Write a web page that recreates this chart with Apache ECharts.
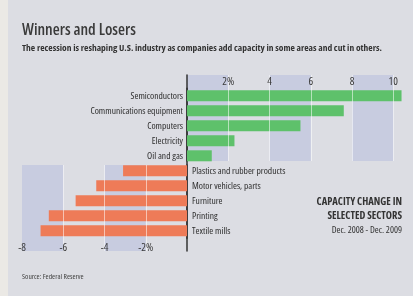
<!DOCTYPE html>
<html>
<head>
<meta charset="utf-8">
<script src="https://cdn.jsdelivr.net/npm/echarts@6/dist/echarts.min.js"></script>
<style>
  html, body { margin: 0; padding: 0; background: #dcdde3; }
  #chart { width: 413px; height: 296px; }
</style>
</head>
<body>
<div id="chart"></div>
<script>
// sectors that added capacity (top) and those that cut it (bottom)
var winners = ['Semiconductors', 'Communications equipment', 'Computers', 'Electricity', 'Oil and gas'];
var winnerValues = [10.4, 7.6, 5.5, 2.3, 1.2];
var losers = ['Plastics and rubber products', 'Motor vehicles, parts', 'Furniture', 'Printing', 'Textile mills'];
var loserValues = [-3.1, -4.4, -5.4, -6.7, -7.1];

// tick labels
var topTickValues = [2, 4, 6, 8, 10];
var topTickLabels = ['2%', '4', '6', '8', '10'];
var bottomTickValues = [-8, -6, -4, -2];
var bottomTickLabels = ['-8', '-6', '-4', '-2%'];

// condensed Open Sans (font-stretch goes in through the weight slot of the font string)
var FONT = '"Open Sans", sans-serif';
var COND = 'condensed';
var COND_BOLD = 'bold condensed';
var shade = '#c8cce0';
var axisColor = '#333333';

var chart = echarts.init(document.getElementById('chart'));

var categories = winners.concat(losers);
var gainData = winnerValues.concat(losers.map(function () { return '-'; }));
var lossData = winners.map(function () { return '-'; }).concat(loserValues);

function tickFormatter(values, labels) {
  return function (v) {
    var i = values.indexOf(Math.round(v * 100) / 100);
    return i < 0 ? '' : labels[i];
  };
}

// one line of text, placed with the title component
function note(text, pos, size, weight, color) {
  var t = { text: text, padding: 0, textStyle: { fontFamily: FONT, fontSize: size, fontWeight: weight, color: color, lineHeight: size + 2 } };
  for (var k in pos) t[k] = pos[k];
  return t;
}

var option = {
  backgroundColor: '#dcdde3',
  animation: false,
  graphic: [
    // whiter paper edge on the left
    { type: 'rect', left: 0, top: 0, shape: { width: 8, height: 296 }, style: { fill: '#ebe9e5' }, silent: true }
  ],
  title: [
    note('Winners and Losers', { left: 22, top: 21 }, 16, '600 condensed', '#3a3a3a'),
    note('The recession is reshaping U.S. industry as companies add capacity in some areas and cut in others.', { left: 22, top: 42.5 }, 9.5, COND_BOLD, '#333'),
    note('CAPACITY CHANGE IN', { right: 11, top: 195.5 }, 10.5, COND_BOLD, '#333'),
    note('SELECTED SECTORS', { right: 11, top: 210 }, 10.5, COND_BOLD, '#333'),
    note('Dec. 2008 - Dec. 2009', { right: 11, top: 225 }, 9.5, COND, '#333'),
    note('Source: Federal Reserve', { left: 22, top: 272 }, 7.5, COND, '#444')
  ],
  grid: [
    // bars
    { left: 22, right: 9.4, top: 88.3, height: 150 },
    // upper shaded panel (positive side)
    { left: 187, right: 9.4, top: 75, height: 86 },
    // lower shaded panel (negative side)
    { left: 22, right: 226, top: 165, height: 86 }
  ],
  xAxis: [
    { gridIndex: 0, type: 'value', min: -8, max: 10.5, show: false },
    {
      gridIndex: 1, type: 'value', min: 0, max: 10.5, interval: 2, position: 'top', z: 0,
      axisLine: { show: false }, axisTick: { show: false }, axisLabel: { show: false },
      splitLine: { show: false },
      splitArea: { show: true, areaStyle: { color: [shade, 'rgba(0,0,0,0)'] } }
    },
    {
      gridIndex: 1, type: 'value', min: 0, max: 10.5, interval: 2, position: 'top', z: 5,
      axisLine: { show: false }, axisTick: { show: false },
      axisLabel: {
        inside: true, margin: 1, fontFamily: FONT, fontSize: 11, fontWeight: COND, color: '#3a3a3a',
        formatter: tickFormatter(topTickValues, topTickLabels)
      },
      splitLine: { show: true, showMinLine: false, showMaxLine: false, lineStyle: { color: 'rgba(255,255,255,0.55)', width: 1 } },
      splitArea: { show: false }
    },
    {
      gridIndex: 2, type: 'value', min: -8, max: 0, interval: 2, position: 'bottom', z: 0,
      axisLine: { show: false }, axisTick: { show: false }, axisLabel: { show: false },
      splitLine: { show: false },
      splitArea: { show: true, areaStyle: { color: [shade, 'rgba(0,0,0,0)'] } }
    },
    {
      gridIndex: 2, type: 'value', min: -8, max: 0, interval: 2, position: 'bottom', z: 5,
      axisLine: { show: false }, axisTick: { show: false },
      axisLabel: {
        inside: true, margin: -2, fontFamily: FONT, fontSize: 11, fontWeight: COND, color: '#3a3a3a',
        formatter: tickFormatter(bottomTickValues, bottomTickLabels)
      },
      splitLine: { show: true, showMinLine: false, showMaxLine: false, lineStyle: { color: 'rgba(255,255,255,0.55)', width: 1 } },
      splitArea: { show: false }
    }
  ],
  yAxis: [
    {
      gridIndex: 0, type: 'category', data: categories, inverse: true,
      axisLine: { show: true, onZero: true, lineStyle: { color: axisColor, width: 1.5 } },
      axisTick: { show: false }, axisLabel: { show: false }, splitLine: { show: false }
    },
    {
      gridIndex: 1, type: 'value', min: 0, max: 1, position: 'left',
      axisLine: { show: true, onZero: false, lineStyle: { color: axisColor, width: 1.5 } },
      axisTick: { show: false }, axisLabel: { show: false }, splitLine: { show: false }
    },
    {
      gridIndex: 2, type: 'value', min: 0, max: 1, position: 'right',
      axisLine: { show: true, onZero: false, lineStyle: { color: axisColor, width: 1.5 } },
      axisTick: { show: false }, axisLabel: { show: false }, splitLine: { show: false }
    }
  ],
  series: [
    {
      name: 'Added capacity', type: 'bar', xAxisIndex: 0, yAxisIndex: 0,
      data: gainData, barWidth: 11, barGap: '-100%', z: 2,
      itemStyle: { color: '#5ec16b' },
      label: {
        show: true, position: 'left', distance: 4,
        fontFamily: FONT, fontSize: 9.5, fontWeight: COND, color: '#2e2e2e',
        formatter: function (p) { return categories[p.dataIndex]; }
      }
    },
    {
      name: 'Cut capacity', type: 'bar', xAxisIndex: 0, yAxisIndex: 0,
      data: lossData, barWidth: 11, barGap: '-100%', z: 2,
      itemStyle: { color: '#ee7b58' },
      label: {
        show: true, position: 'right', distance: 5,
        fontFamily: FONT, fontSize: 9.5, fontWeight: COND, color: '#2e2e2e',
        formatter: function (p) { return categories[p.dataIndex]; }
      }
    }
  ]
};

chart.setOption(option);
</script>
</body>
</html>
